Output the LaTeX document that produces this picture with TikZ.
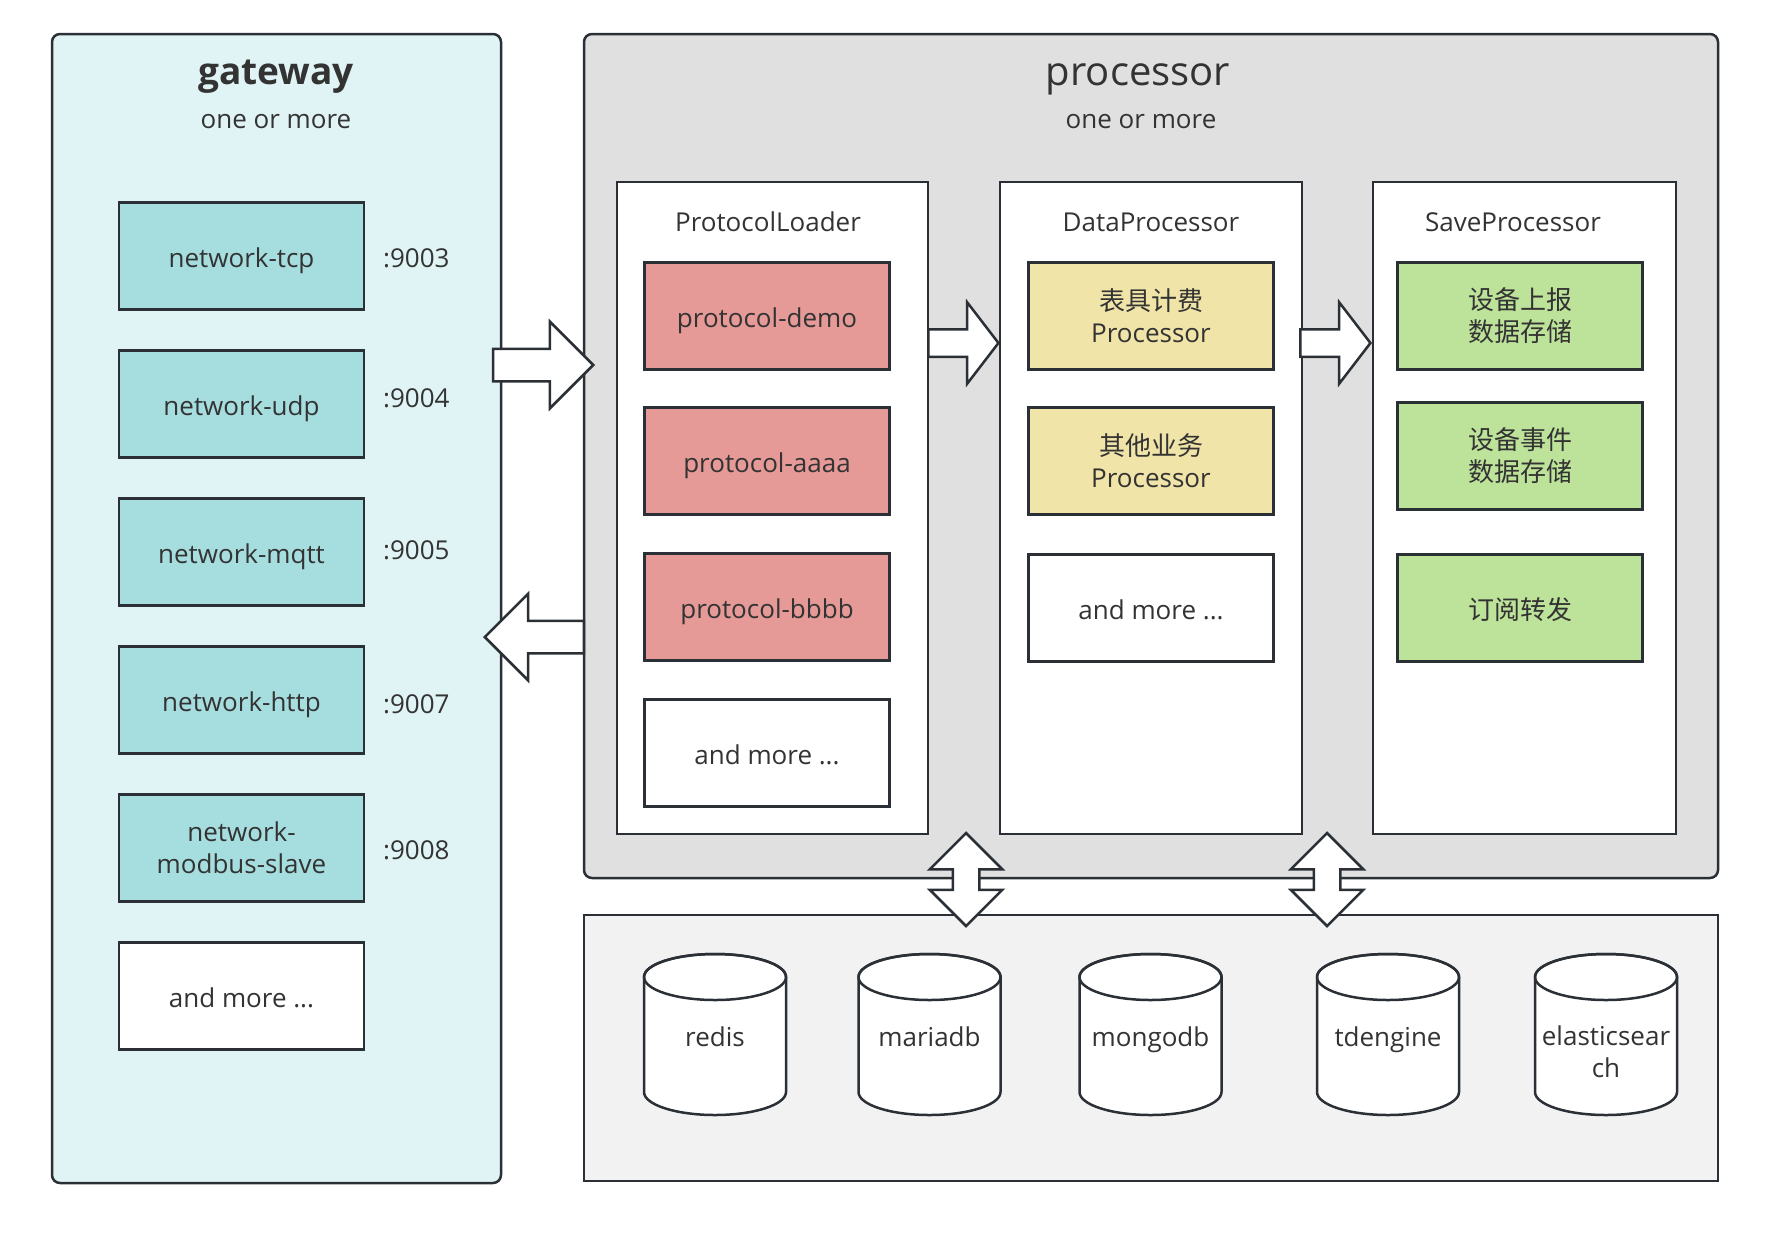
\documentclass[tikz,border=0pt]{standalone}
\usepackage{fontspec}
\setmainfont{Open Sans}
\newfontfamily\cjk{Noto Sans CJK SC}
\usetikzlibrary{positioning,shapes.arrows}
\definecolor{linec}{HTML}{2B3036}
\definecolor{textc}{HTML}{333333}
\definecolor{gwfill}{HTML}{E0F4F6}
\definecolor{netfill}{HTML}{A6DEE0}
\definecolor{procfill}{HTML}{E0E0E0}
\definecolor{protofill}{HTML}{E59A97}
\definecolor{datafill}{HTML}{F0E4A8}
\definecolor{savefill}{HTML}{BDE29A}
\definecolor{storefill}{HTML}{F2F2F2}
\tikzset{
  txt/.style={text=textc, font=\fontsize{26}{32}\selectfont, align=center},
  zh/.style={font=\cjk\fontsize{26}{32}\selectfont},
  oneline/.style={text height=22pt, text depth=0pt},
  twoline/.style={},
  group/.style={draw=linec, line width=2.5pt, inner sep=0pt, outer sep=0pt},
  column/.style={group, fill=white, minimum height=652pt},
  item/.style={txt, draw=linec, line width=2.5pt, inner sep=0pt, outer sep=0pt, minimum width=245pt, minimum height=107pt},
  port/.style={txt, oneline, inner sep=0pt},
  blockarrow/.style={single arrow, draw=linec, fill=white, line width=2.5pt, inner sep=0pt, inner ysep=15pt, single arrow head extend=27pt, minimum height=100pt},
  smallarrow/.style={blockarrow, inner ysep=12.5pt, single arrow head extend=27pt, single arrow tip angle=105, minimum height=70pt},
  updown/.style={double arrow, draw=linec, fill=white, line width=2.5pt, inner sep=0pt, inner xsep=12pt, double arrow head extend=23pt, minimum height=93pt, shape border rotate=90},
  dbline/.style={draw=linec, line width=2.5pt}
}

\begin{document}
\begin{tikzpicture}[x=1pt, y=-1pt]
  \useasboundingbox (0,0) rectangle (1784,1242);
  % containers
  \node[group, fill=gwfill, rounded corners=8pt, minimum width=449pt, minimum height=1149pt] (gw) at (276.5,608.5) {};
  \node[group, fill=procfill, rounded corners=8pt, minimum width=1134pt, minimum height=844pt] (proc) at (1151,456) {};
  \node[group, fill=storefill, minimum width=1134pt, minimum height=266pt] (store) at (1151,1048) {};
  \node[text=textc, font=\fontsize{37}{44}\selectfont\bfseries] (gwtitle) at (276,77) {gateway};
  \node[txt] (gwsub) at (276,122) {one or more};
  \node[text=textc, font=\fontsize{40}{46}\selectfont] (proctitle) at (1138,79) {processor};
  \node[txt] (procsub) at (1141,122) {one or more};

  % gateway
  \node[item, oneline, fill=netfill] (tcp) at (241.5,256) {network-tcp};
  \node[item, oneline, fill=netfill, below=41pt of tcp] (udp) {network-udp};
  \node[item, oneline, fill=netfill, below=41pt of udp] (mqtt) {network-mqtt};
  \node[item, oneline, fill=netfill, below=41pt of mqtt] (http) {network-http};
  \node[item, fill=netfill, below=41pt of http] (modbus) {network-\\modbus-slave};
  \node[item, oneline, fill=white, below=41pt of modbus] (gwmore) {and more ...};
  \node[port, right=19pt of tcp] (p9003) {:9003};
  \node[port, right=19pt of udp, yshift=8pt] (p9004) {:9004};
  \node[port, right=19pt of mqtt, yshift=4pt] (p9005) {:9005};
  \node[port, right=19pt of http, yshift=-2pt] (p9007) {:9007};
  \node[port, right=19pt of modbus] (p9008) {:9008};

  % processor columns
  \node[column, minimum width=311pt] (pl) at (772.5,508) {};
  \node[column, minimum width=302pt] (dp) at (1151,508) {};
  \node[column, minimum width=303pt] (sp) at (1524.5,508) {};
  \node[txt] (pltitle) at (768,222) {ProtocolLoader};
  \node[txt] (dptitle) at (1151,222) {DataProcessor};
  \node[txt] (sptitle) at (1513,222) {SaveProcessor};

  \node[item, oneline, fill=protofill] (demo) at (767,316) {protocol-demo};
  \node[item, oneline, fill=protofill, below=38pt of demo] (aaaa) {protocol-aaaa};
  \node[item, oneline, fill=protofill, below=39pt of aaaa] (bbbb) {protocol-bbbb};
  \node[item, oneline, fill=white, below=39pt of bbbb] (plmore) {and more ...};

  \node[item, fill=datafill] (meter) at (1151,316) {{\cjk 表具计费}\\Processor};
  \node[item, fill=datafill, below=38pt of meter] (other) {{\cjk 其他业务}\\Processor};
  \node[item, oneline, fill=white, below=40pt of other] (dpmore) {and more ...};

  \node[item, fill=savefill, zh] (report) at (1520,316) {设备上报\\数据存储};
  \node[item, fill=savefill, zh] (event) at (1520,456) {设备事件\\数据存储};
  \node[item, fill=savefill, zh, oneline] (forward) at (1520,608) {订阅转发};

  % storage
  \foreach \x/\ty/\st/\name/\label in {715/1035/oneline/redis/redis, 929.5/1035/oneline/mariadb/mariadb,
      1150.5/1035/oneline/mongodb/mongodb, 1388/1035/oneline/tdengine/tdengine,
      1606/1052/twoline/elastic/elasticsear\\ch}{
    \draw[dbline, fill=white] (\x-71,977) -- (\x-71,1092)
      arc[start angle=180, end angle=360, x radius=71pt, y radius=23pt]
      -- (\x+71,977) arc[start angle=0, end angle=180, x radius=71pt, y radius=23pt] -- cycle;
    \draw[dbline] (\x,977) ellipse[x radius=71pt, y radius=23pt];
    \node[txt, \st] (\name) at (\x,\ty) {\label};
  }

  % arrows
  \node[blockarrow, anchor=tip] (toproc) at (595,365) {};
  \node[blockarrow, shape border rotate=180, minimum height=99pt, anchor=tip] (togw) at (483,637) {};
  \node[smallarrow, anchor=tip] (todp) at (1000,343) {};
  \node[smallarrow, anchor=tip] (tosp) at (1372,343) {};
  \node[updown] (plstore) at (966,879.5) {};
  \node[updown] (spstore) at (1327,879.5) {};
\end{tikzpicture}
\end{document}
